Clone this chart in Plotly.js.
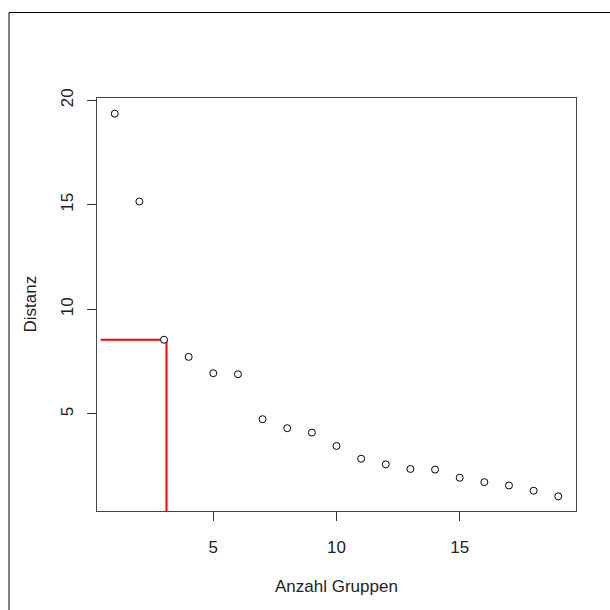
<!DOCTYPE html>
<html>
<head>
<meta charset="utf-8">
<script src="https://cdn.plot.ly/plotly-3.0.1.min.js"></script>
<style>html,body{margin:0;padding:0;background:#fff;}#chart{width:610px;height:610px;}</style>
</head>
<body>
<div id="chart"></div>
<script>
// Data
var groups = [1,2,3,4,5,6,7,8,9,10,11,12,13,14,15,16,17,18,19];
var distanz = [19.36,15.16,8.55,7.73,6.95,6.90,4.75,4.32,4.11,3.47,2.86,2.59,2.37,2.34,1.95,1.74,1.58,1.33,1.06];
// Red elbow guide lines
var elbowHx = [0.43, 3];
var elbowHy = [8.55, 8.55];
var elbowVx = [3.1, 3.1];
var elbowVy = [8.55, 0];
var xTicks = [5, 10, 15];
var yTicks = [5, 10, 15, 20];

var font = {family: 'Liberation Sans, Arial, sans-serif', size: 17, color: '#222'};

var traces = [
  {x: elbowHx, y: elbowHy, mode: 'lines', line: {color: '#ff0000', width: 2}, hoverinfo: 'skip'},
  {x: elbowVx, y: elbowVy, mode: 'lines', line: {color: '#ff0000', width: 2}, hoverinfo: 'skip'},
  {x: groups, y: distanz, mode: 'markers',
   marker: {symbol: 'circle', size: 7, color: '#ffffff', line: {color: '#000', width: 1}}}
];

var L = 97, R = 34, T = 98, B = 99;
var W = 610 - L - R, H = 610 - T - B;
function px(x){ return (x - L) / W; }
function py(y){ return (610 - B - y) / H; }

var axisCommon = {
  showgrid: false, zeroline: false, showline: true, mirror: true,
  linecolor: '#444', linewidth: 1, ticks: 'outside', ticklen: 9,
  tickcolor: '#333', tickwidth: 1, tickfont: font, tickmode: 'array'
};

var layout = {
  width: 610, height: 610,
  margin: {l: L, r: R, t: T, b: B},
  paper_bgcolor: '#fff', plot_bgcolor: '#fff',
  showlegend: false,
  font: font,
  xaxis: Object.assign({}, axisCommon, {range: [0.28, 19.72], tickvals: xTicks, ticktext: xTicks.map(String), ticklabelstandoff: 12}),
  yaxis: Object.assign({}, axisCommon, {range: [0.36, 20.11], tickvals: yTicks, ticktext: yTicks.map(String), tickangle: -90, ticklabelstandoff: 7}),
  annotations: [
    {text: 'Anzahl Gruppen', xref: 'paper', yref: 'paper', x: 0.5, y: py(586), xanchor: 'center', yanchor: 'middle', showarrow: false, font: font},
    {text: 'Distanz', xref: 'paper', yref: 'paper', x: px(30), y: 0.5, xanchor: 'center', yanchor: 'middle', textangle: -90, showarrow: false, font: font}
  ],
  shapes: [
    {type: 'line', xref: 'paper', yref: 'paper', x0: px(9), x1: px(620), y0: py(12.5), y1: py(12.5), line: {color: '#000', width: 1}},
    {type: 'line', xref: 'paper', yref: 'paper', x0: px(9), x1: px(9), y0: py(12.5), y1: py(620), line: {color: '#000', width: 1}}
  ]
};

Plotly.newPlot('chart', traces, layout, {displayModeBar: false, staticPlot: true});
</script>
</body>
</html>
